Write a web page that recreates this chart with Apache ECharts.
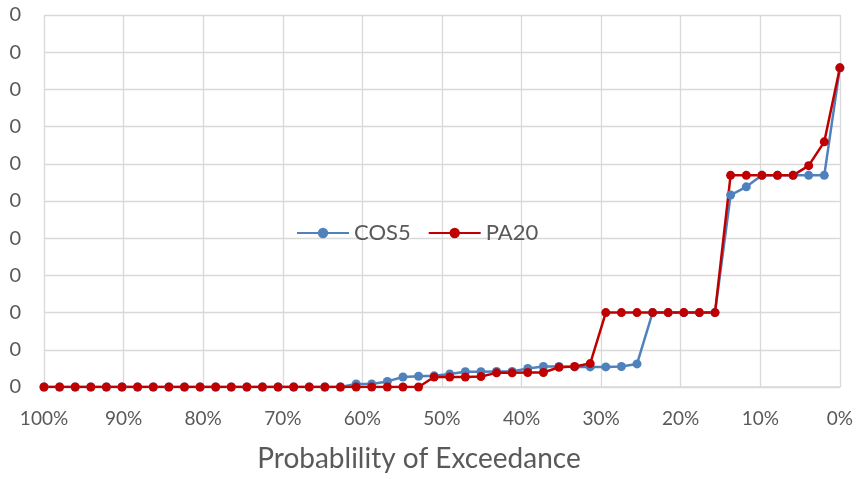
<!DOCTYPE html>
<html>
<head>
<meta charset="utf-8">
<script src="https://cdn.jsdelivr.net/npm/echarts@6/dist/echarts.min.js"></script>
<style>html,body{margin:0;padding:0;background:#fff}#c{width:856px;height:479px}</style>
</head>
<body>
<div id="c"></div>
<script>
const exceedance = [100, 98.04, 96.08, 94.12, 92.16, 90.20, 88.24, 86.27, 84.31, 82.35, 80.39, 78.43, 76.47, 74.51, 72.55, 70.59, 68.63, 66.67, 64.71, 62.75, 60.78, 58.82, 56.86, 54.90, 52.94, 50.98, 49.02, 47.06, 45.10, 43.14, 41.18, 39.22, 37.25, 35.29, 33.33, 31.37, 29.41, 27.45, 25.49, 23.53, 21.57, 19.61, 17.65, 15.69, 13.73, 11.76, 9.80, 7.84, 5.88, 3.92, 1.96, 0];
const cos5 = [0,0,0,0,0,0,0,0,0,0, 0,0,0,0,0,0,0,0,0,0, 0.08,0.08,0.15,0.27,0.29,0.30,0.35,0.41,0.41,0.42, 0.42,0.50,0.55,0.55,0.54,0.54,0.54,0.55,0.62,2.0, 2.0,2.0,2.0,2.0,5.16,5.38,5.69,5.69,5.69,5.69, 5.69,8.58];
const pa20 = [0,0,0,0,0,0,0,0,0,0, 0,0,0,0,0,0,0,0,0,0, 0,0,0,0,0,0.27,0.27,0.27,0.28,0.38, 0.38,0.39,0.39,0.53,0.55,0.63,2.0,2.0,2.0,2.0, 2.0,2.0,2.0,2.0,5.69,5.69,5.69,5.69,5.69,5.95, 6.59,8.58];
const xTickLabels = {100:'100%',90:'90%',80:'80%',70:'70%',60:'60%',50:'50%',40:'40%',30:'30%',20:'20%',10:'10%',0:'0%'};
const yTickLabels = ['0','0','0','0','0','0','0','0','0','0','0'];
const seriesNames = ['COS5','PA20'];
const xAxisTitle = 'Probablility of Exceedance';

const font = 'Lato, "Open Sans", sans-serif';
const chart = echarts.init(document.getElementById('c'));
function pairs(ys){ return ys.map((y,i)=>[exceedance[i], y]); }
chart.setOption({
  animation:false,
  backgroundColor:'#fff',
  grid:{left:44, right:16, top:15, bottom:92},
  legend:{
    left:291, top:217, itemWidth:52, itemHeight:13, itemGap:17,
    textStyle:{fontFamily:font, fontSize:22, color:'#595959'},
    data:seriesNames
  },
  xAxis:{
    type:'value', min:0, max:100, interval:10, inverse:true,
    name:xAxisTitle, nameLocation:'middle', nameGap:58,
    nameTextStyle:{fontFamily:font, fontSize:28, color:'#595959', padding:[0,46,0,0]},
    axisLine:{show:true, lineStyle:{color:'#d9d9d9', width:1.5}},
    axisTick:{show:false},
    splitLine:{show:true, lineStyle:{color:'#d9d9d9', width:1.3}},
    axisLabel:{fontFamily:font, fontSize:19, color:'#595959', margin:22,
      formatter:v=>xTickLabels[Math.round(v)]}
  },
  yAxis:{
    type:'value', min:0, max:10, interval:1,
    axisLine:{show:false}, axisTick:{show:false},
    splitLine:{show:true, lineStyle:{color:'#d9d9d9', width:1.3}},
    axisLabel:{fontFamily:font, fontSize:20, color:'#595959', margin:23,
      formatter:(v)=>yTickLabels[Math.round(v)]}
  },
  series:[
    {name:seriesNames[0], type:'line', data:pairs(cos5), symbol:'circle', symbolSize:9,
      itemStyle:{color:'#4f81bd'}, lineStyle:{color:'#4f81bd', width:2.5}},
    {name:seriesNames[1], type:'line', data:pairs(pa20), symbol:'circle', symbolSize:9,
      itemStyle:{color:'#c00000'}, lineStyle:{color:'#c00000', width:2.5}}
  ]
});
</script>
</body>
</html>
